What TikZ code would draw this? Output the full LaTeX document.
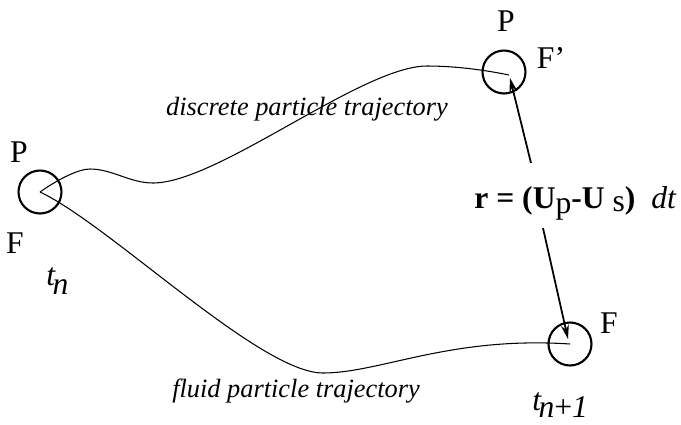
\documentclass[tikz,border=0pt]{standalone}
\usepackage{fontspec}
\setmainfont{Liberation Serif}
\usetikzlibrary{arrows.meta}
\tikzset{
  pcirc/.style={circle,draw,line width=1.2pt,minimum size=0.86cm,inner sep=0pt},
  traj/.style={line width=0.6pt},
  relarr/.style={-{Stealth[length=8pt,width=4.5pt,open]},line width=1pt},
  lbl/.style={font=\fontsize{18}{21}\selectfont,inner sep=0pt},
  tlbl/.style={font=\fontsize{15}{18}\selectfont\itshape,inner sep=0pt,anchor=base},
}

\begin{document}
\begin{tikzpicture}[x=0.02cm,y=-0.02cm]
  \useasboundingbox (0,0) rectangle (681,424);
  % particle positions
  \node[pcirc] (lc) at (40,192) {};
  \node[pcirc] (tc) at (504,72) {};
  \node[pcirc] (bc) at (570,344) {};
  \coordinate (pend) at (509,75);
  % trajectories
  \draw[traj] (lc.center) .. controls (57,180) and (78,169) .. (90,169)
    .. controls (112,169) and (130,183) .. (153,183)
    .. controls (218,183) and (362,66) .. (427,66)
    .. controls (455,66) and (485,70) .. (pend);
  \draw[traj] (lc.center) .. controls (110,225) and (260,373) .. (323,373)
    .. controls (380,373) and (450,336) .. (bc.center);
  \node[tlbl] (dlab) at (307,115) {discrete particle trajectory};
  \node[tlbl] (flab) at (296,397) {fluid particle trajectory};
  % labels
  \node[lbl] (lp) at (19,152) {P};
  \node[lbl] (lf) at (15,243) {F};
  \node[lbl] (tp) at (506,21) {P};
  \node[lbl] (tf) at (551,58) {F’};
  \node[lbl] (bf) at (609,323) {F};
  \node[lbl,anchor=base west] (tn) at (46,285) {\itshape t\kern-1.5pt\raisebox{-5.5pt}{n}};
  \node[lbl,anchor=base west] (tn1) at (532,410) {\itshape t\kern-1.5pt\raisebox{-4.5pt}{n\upshape+\itshape 1}};
  % relative displacement
  \node[lbl,font=\fontsize{18}{21}\selectfont,anchor=base west] (rel) at (474,208)
    {\textbf{r = (U}\raisebox{-3pt}{p}\textbf{-U}\ \raisebox{-2pt}{s}\textbf{)}\ \ \textit{dt}};
  \coordinate (ua) at (531,163);
  \coordinate (ta) at (510,78);
  \coordinate (la) at (543,228);
  \coordinate (tb) at (568,339);
  \draw[relarr] (ua) -- (ta);
  \draw[relarr] (la) -- (tb);
\end{tikzpicture}
\end{document}
